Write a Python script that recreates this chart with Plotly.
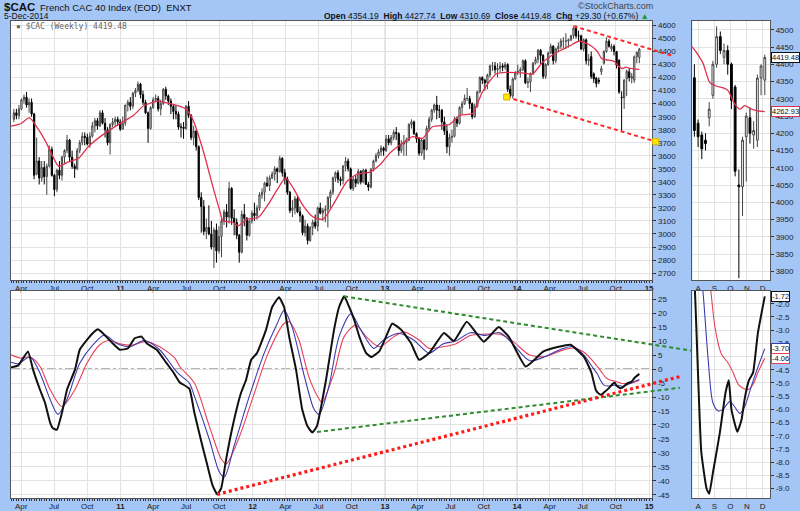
import pandas as pd
import plotly.graph_objects as go

# ---------------- data ----------------
week_dates = pd.date_range("2010-03-12", "2014-12-05", freq="W-FRI")

opens = [
    3880,3930,3910,3960,4030,4050,3990,4010,3920,3460,3560,3430,3510,3440,3520,3650,3450,3340,3490,3450,3590,3640,3720,3590,3520,3500,3640,3700,3750,3740,3690,3750,3830,3870,3830,3930,3850,3800,3700,3840,3860,3880,3860,
    3805,3850,3990,4010,3980,4080,4100,4150,4070,4010,3930,3810,3970,4030,4040,3960,4000,4110,4060,4020,3980,3940,3920,3820,3820,3810,3980,3910,3740,3790,3670,3280,3210,3020,3050,3000,2900,3030,2870,2980,3100,3170,3130,3350,3120,3090,2990,2860,3150,3120,2990,3100,
    3160,3140,3200,3300,3320,3390,3370,3430,3460,3500,3480,3580,3470,3420,3320,3180,3200,3270,3170,3140,3010,3060,2950,3050,3090,3060,3200,3160,3180,3190,3280,3320,3430,3470,3420,3410,3520,3560,3500,3350,3420,3390,3480,3400,3490,3380,3360,3500,3560,3600,3630,3660,
    3640,3730,3700,3740,3780,3770,3640,3690,3700,3720,3840,3860,3770,3730,3620,3720,3650,3810,3880,3950,3990,3950,3950,3860,3790,3670,3740,3750,3880,3850,3970,4000,4040,4040,4000,3900,3980,4090,4200,4180,4160,4220,4290,4290,4260,4270,4290,4280,4300,4110,4060,4190,
    4240,4250,4260,4330,4160,4165,4230,4310,4340,4410,4370,4210,4300,4390,4440,4330,4420,4440,4480,4480,4480,4490,4520,4580,4520,4520,4420,4490,4330,4361,4229,4195,4180,4245,4310,4400,4480,4420,4440,4400,4334,4050,4045,4190,4245,4195,4180,4360,4354.19,
]
highs = [
    3960,3960,3990,4040,4070,4090,4040,4040,3930,3740,3590,3560,3560,3540,3680,3670,3460,3500,3560,3600,3650,3760,3730,3640,3540,3660,3720,3780,3780,3770,3780,3860,3890,3890,3950,3950,3890,3820,3850,3890,3900,3900,3880,
    3900,3990,4030,4050,4090,4120,4170,4160,4100,4030,3940,3980,4050,4070,4060,4030,4120,4130,4070,4040,3990,3990,3940,3850,3860,3990,4020,3920,3830,3800,3680,3320,3260,3120,3220,3100,3050,3080,3060,3120,3190,3230,3400,3360,3190,3120,3000,3180,3230,3130,3110,3180,
    3240,3220,3320,3350,3400,3440,3450,3480,3520,3510,3600,3590,3500,3440,3330,3260,3290,3300,3210,3150,3110,3080,3060,3110,3150,3210,3240,3200,3220,3290,3340,3440,3480,3490,3440,3530,3590,3580,3510,3440,3450,3500,3490,3500,3500,3400,3500,3570,3620,3650,3680,3670,
    3760,3760,3760,3800,3820,3780,3720,3760,3740,3850,3880,3870,3780,3740,3730,3730,3830,3900,3960,4000,4060,3990,3960,3900,3840,3770,3800,3900,3900,3980,4020,4070,4120,4060,4010,4000,4100,4210,4210,4190,4230,4300,4320,4320,4310,4320,4310,4320,4310,4140,4200,4250,
    4300,4280,4340,4340,4200,4240,4320,4360,4420,4420,4380,4310,4400,4460,4450,4430,4470,4500,4510,4540,4500,4530,4590,4600,4560,4530,4500,4500,4380,4400,4240,4205,4200,4290,4410,4510,4495,4460,4455,4405,4340,4095,4190,4260,4275,4235,4370,4400,4427.74,
]
lows = [
    3860,3880,3880,3950,4000,3970,3930,3900,3420,3450,3380,3400,3380,3300,3510,3440,3290,3320,3420,3410,3540,3620,3560,3500,3430,3490,3620,3680,3680,3680,3660,3740,3780,3800,3820,3840,3740,3680,3610,3820,3830,3830,3790,
    3800,3830,3940,3950,3960,4050,4090,4040,3990,3920,3700,3800,3960,4010,3940,3910,3990,4030,3990,3920,3880,3880,3800,3740,3730,3800,3890,3720,3680,3640,3260,3010,2990,2960,2990,2880,2740,2780,2850,2820,3070,3050,3080,3070,2990,2960,2780,2850,3060,2950,2980,3080,
    3100,3110,3180,3270,3250,3360,3330,3420,3410,3390,3470,3440,3380,3300,3160,3130,3150,3160,3090,2990,2980,2920,2940,2990,3040,3020,3150,3100,3090,3050,3200,3300,3400,3390,3370,3380,3480,3480,3340,3330,3360,3380,3380,3390,3380,3330,3350,3480,3550,3580,3600,3600,
    3630,3680,3680,3720,3720,3600,3620,3600,3600,3710,3810,3760,3700,3600,3600,3570,3640,3790,3860,3930,3880,3890,3800,3760,3620,3600,3700,3740,3820,3840,3920,3990,4020,3960,3880,3890,3970,4080,4150,4100,4110,4200,4250,4230,4200,4240,4250,4260,4090,4050,4040,4180,
    4220,4200,4250,4150,4120,4090,4220,4300,4310,4300,4190,4190,4290,4380,4300,4310,4400,4420,4420,4420,4430,4480,4500,4500,4480,4410,4400,4300,4290,4190,4160,4125,4150,4220,4300,4390,4430,4400,4370,4270,4075,3780,3960,4060,4170,4155,4160,4310,4310.69,
]
closes = [
    3930,3910,3960,4030,4050,3990,4010,3920,3450,3560,3430,3510,3440,3520,3650,3450,3340,3490,3450,3590,3640,3720,3590,3520,3500,3640,3700,3750,3740,3690,3750,3830,3870,3830,3930,3850,3800,3700,3840,3860,3880,3860,3805,
    3850,3990,4010,3980,4080,4100,4150,4070,4010,3930,3810,3970,4030,4040,3960,4000,4110,4060,4020,3980,3940,3920,3820,3820,3810,3980,3910,3740,3790,3670,3280,3210,3020,3050,3000,2900,3030,2870,2980,3100,3170,3130,3350,3120,3090,2990,2860,3150,3120,2990,3100,3160,
    3140,3200,3300,3320,3390,3370,3430,3460,3500,3480,3580,3470,3420,3320,3180,3200,3270,3170,3140,3010,3060,2950,3050,3090,3060,3200,3160,3180,3190,3280,3320,3430,3470,3420,3410,3520,3560,3500,3350,3420,3390,3480,3400,3490,3380,3360,3500,3560,3600,3630,3660,3640,
    3730,3700,3740,3780,3770,3640,3690,3700,3720,3840,3860,3770,3730,3620,3720,3650,3810,3880,3950,3990,3950,3950,3860,3790,3670,3740,3750,3880,3850,3970,4000,4040,4040,4000,3900,3980,4090,4200,4180,4160,4220,4290,4290,4260,4270,4290,4280,4300,4110,4060,4190,4240,
    4250,4260,4330,4160,4165,4230,4310,4340,4410,4370,4210,4300,4390,4440,4330,4420,4440,4480,4480,4480,4490,4520,4580,4520,4520,4420,4490,4330,4340,4208,4190,4155,4170,4270,4400,4480,4440,4440,4400,4296,4090,4045,4180,4250,4200,4208,4360,4395,4419.48,
]
price_change = 29.30
price_change_pct = 0.67

ma_dates = ["2010-03-04","2010-04-01","2010-04-24","2010-05-17","2010-06-08","2010-06-30","2010-07-14","2010-08-08","2010-09-07","2010-10-04","2010-11-06","2010-12-23",
            "2011-02-06","2011-03-05","2011-04-13","2011-05-19","2011-06-29","2011-07-21","2011-08-18","2011-09-14","2011-10-03","2011-10-11","2011-11-08","2011-11-22","2011-12-16",
            "2012-01-16","2012-02-13","2012-03-12","2012-04-01","2012-04-22","2012-05-20","2012-06-16","2012-07-14","2012-08-11","2012-09-18","2012-10-16","2012-11-20","2012-12-18",
            "2013-01-14","2013-02-11","2013-03-18","2013-04-15","2013-05-12","2013-06-28","2013-07-26","2013-08-31","2013-09-27","2013-11-04","2013-12-02",
            "2014-01-16","2014-02-13","2014-03-12","2014-04-20","2014-05-26","2014-06-22","2014-07-21","2014-08-10","2014-08-23","2014-09-04","2014-09-20","2014-09-27",
            "2014-10-09","2014-10-19","2014-10-28","2014-11-10","2014-11-22","2014-12-05"]
ma_values = [3827,3848,3893,3810,3709,3582,3519,3551,3582,3671,3747,3835,
             3911,3982,4020,4000,3962,3870,3633,3354,3170,3101,3088,3063,3113,
             3126,3227,3354,3430,3354,3215,3131,3113,3227,3405,3460,3475,3531,
             3620,3683,3747,3734,3823,3840,3911,3924,4089,4228,4240,
             4236,4228,4316,4393,4443,4481,4450,4404,4347,4337,4330,4323,
             4285,4270,4280,4270,4265,4262.93]

black_dates = ["2010-03-04","2010-03-24","2010-04-20","2010-05-04","2010-05-23","2010-06-06","2010-06-20","2010-06-28","2010-07-09","2010-07-23","2010-08-06","2010-08-28",
               "2010-09-10","2010-09-30","2010-10-16","2010-10-30","2010-11-13","2010-12-10","2010-12-30","2011-01-21","2011-02-09","2011-02-28","2011-03-14","2011-04-11",
               "2011-05-08","2011-05-25","2011-06-13","2011-07-10","2011-07-24","2011-08-15","2011-08-29","2011-09-12","2011-09-25","2011-10-06","2011-10-20","2011-11-05",
               "2011-11-30","2011-12-14","2011-12-28","2012-01-13","2012-02-07","2012-02-24","2012-03-14","2012-03-28","2012-04-11","2012-04-30","2012-05-17","2012-05-31",
               "2012-06-14","2012-06-27","2012-07-22","2012-08-13","2012-08-27","2012-09-10","2012-09-24","2012-10-08","2012-10-22","2012-11-10","2012-11-24","2012-12-16",
               "2013-01-04","2013-01-21","2013-02-15","2013-03-14","2013-04-05","2013-05-03","2013-06-13","2013-07-10","2013-08-15","2013-10-01","2013-11-11","2013-12-09",
               "2014-01-25","2014-03-15","2014-04-26","2014-05-29","2014-07-04","2014-07-18","2014-07-26","2014-08-07","2014-08-17","2014-08-22","2014-08-29","2014-09-11",
               "2014-09-22","2014-09-28","2014-10-03","2014-10-14","2014-10-22","2014-10-28","2014-11-05","2014-11-13","2014-11-22","2014-12-05"]
black_values = [0.6,1.3,6.3,-0.2,-7.3,-12,-19.1,-21.2,-21.7,-15.6,-7.3,-0.2,
                6.9,10.4,12.8,14.2,12.8,9.2,6.9,7.4,11,11.6,9.2,6.9,
                2.1,-0.8,-4.7,-7,-15.6,-27.4,-34.5,-41.5,-44.8,-42.7,-32.1,-21.5,
                -8.5,-3.8,3.3,5.7,14,22.2,25.7,22.2,11.6,-0.2,-14.4,-20.3,
                -22.7,-20.3,-3.8,14,22.2,26,22.2,17.5,11.6,5.7,4.3,6.3,
                11.6,16.3,14,9.2,3.3,5.7,12.9,10,16.9,9.8,15,11.6,
                0.9,6.3,8,8.7,4.5,1.0,-1.5,-7.6,-9.0,-9.2,-8.4,-6.9,
                -5.35,-4.9,-6.0,-6.85,-6.4,-5.6,-4.9,-4.6,-3.1,-1.72]

blue_dates = ["2010-03-04","2010-03-24","2010-04-26","2010-05-23","2010-06-20","2010-07-12","2010-08-06","2010-09-10","2010-10-16","2010-11-18","2010-12-20",
              "2011-01-26","2011-03-08","2011-04-19","2011-05-31","2011-06-13","2011-07-10","2011-07-24","2011-09-03","2011-10-01","2011-10-15","2011-11-11","2011-12-23",
              "2012-02-02","2012-03-09","2012-03-28","2012-04-19","2012-05-23","2012-06-19","2012-07-03","2012-07-30","2012-08-27","2012-09-29","2012-10-26","2012-12-01","2012-12-28",
              "2013-02-08","2013-03-21","2013-05-03","2013-06-10","2013-07-15","2013-08-25","2013-10-05","2013-11-15","2013-12-20",
              "2014-02-05","2014-03-20","2014-05-01","2014-06-05","2014-07-05","2014-08-01","2014-08-10","2014-08-20","2014-08-29","2014-09-08","2014-09-17",
              "2014-09-30","2014-10-09","2014-10-19","2014-10-28","2014-11-10","2014-11-22","2014-12-05"]
blue_values = [2.4,1.9,4.3,-1.4,-10.8,-16.2,-10.8,2.1,8.6,12.2,9.2,
               8,10.2,6.9,-0.2,-2,-5,-9.7,-25,-36.8,-38.6,-27.4,-9.7,
               5.7,16.3,21,15.1,-2.6,-14.4,-16.2,-6.1,11.6,19.8,14,7.4,10.4,
               12.8,10.4,5.7,9,10,13,12,13,9,
               3,4.5,7,8,5,0,-1.5,-4.1,-5.75,-6.06,-6.0,
               -5.7,-5.9,-6.15,-5.9,-5.1,-4.4,-3.70]

red_dates = ["2010-03-04","2010-03-31","2010-04-26","2010-05-23","2010-06-20","2010-07-23","2010-08-28","2010-09-30","2010-11-04","2010-12-01","2010-12-30",
             "2011-02-03","2011-03-08","2011-04-19","2011-05-31","2011-06-13","2011-07-24","2011-09-03","2011-10-06","2011-10-20","2011-11-23",
             "2012-01-03","2012-02-13","2012-03-28","2012-04-11","2012-05-08","2012-06-04","2012-07-03","2012-07-11","2012-08-13","2012-09-10","2012-10-12","2012-11-10","2012-12-16",
             "2013-01-26","2013-02-22","2013-04-05","2013-05-03","2013-06-10","2013-07-15","2013-08-25","2013-10-05","2013-11-15","2013-12-20",
             "2014-02-05","2014-03-20","2014-05-01","2014-06-05","2014-07-05","2014-08-01","2014-08-25","2014-09-02","2014-09-14","2014-09-27",
             "2014-10-06","2014-10-16","2014-10-25","2014-11-04","2014-11-13","2014-11-22","2014-12-05"]
red_values = [5.1,3.9,4.3,1,-7.3,-13.4,-7.3,2.1,8.6,10.2,9,
              8.6,9.8,8,3.9,1,-5,-20.3,-32.1,-33.9,-25,
              -9.7,5.7,16.3,16.9,10.4,-2.6,-10.8,-12,-1.4,11.6,15.7,11.6,8,
              11.6,13.3,10.4,7.4,8,9,12,12.5,12.5,10,
              5,4.5,6.5,7.5,6,2.5,-1.5,-2.9,-3.9,-4.25,
              -4.6,-5.05,-5.2,-5.25,-5.05,-4.6,-4.06]

# trend lines drawn on the chart (date, value endpoints)
price_upper_dates = ["2014-06-06", "2015-03-08"]
price_upper_values = [4595, 4367]
price_lower_dates = ["2013-12-03", "2015-01-19"]
price_lower_values = [4051, 3709]
osc_green_upper_dates = ["2012-09-10", "2015-04-27"]
osc_green_upper_values = [26, 6.6]
osc_green_lower_dates = ["2012-06-27", "2015-03-27"]
osc_green_lower_values = [-22.5, -6.7]
osc_red_dates = ["2011-09-25", "2015-03-30"]
osc_red_values = [-44.8, -2.6]

quarter_ticks = pd.date_range("2010-04-01", "2015-01-01", freq="QS")
quarter_text = [("<b>%s</b>" % d.strftime("%y")) if d.month == 1 else d.strftime("%b") for d in quarter_ticks]
year_ticks = pd.date_range("2011-01-01", "2015-01-01", freq="YS")
month_ticks = pd.date_range("2014-08-01", "2014-12-01", freq="MS")
month_text = [d.strftime("%b")[0] for d in month_ticks]
price_ticks = list(range(2700, 4700, 100))
osc_ticks = list(range(25, -50, -5))
zoom_price_ticks = list(range(3800, 4550, 50))
zoom_osc_ticks = [-2.0 - 0.5 * i for i in range(15)]

# ---------------- layout geometry ----------------
W, H = 800, 511
def px_x(a, b):
    return [a / W, b / W]
def px_y(top, bottom):
    return [1 - bottom / H, 1 - top / H]

X_MAIN = px_x(11, 654)
X_EXT = px_x(11, 700)
X_RIGHT = px_x(694, 772)
Y_MAIN = px_y(21, 283)
Y_OSC = px_y(294, 503)

main_range = [pd.Timestamp("2010-03-04"), pd.Timestamp("2015-01-10")]
ext_end = main_range[0] + (main_range[1] - main_range[0]) * ((700 - 11) / (654 - 11))
ext_range = [main_range[0], ext_end]
right_range = ["2014-07-21", "2014-12-15"]
price_range = [2645, 4636]
osc_range = [-46.14, 27.87]
zprice_range = [3774, 4526]
zosc_range = [-9.36, -1.52]

MA_COLOR = "#e0304e"
BLUE = "#3b3bb0"
RED = "#e8405a"
FONT = "Liberation Sans"

fig = go.Figure()

n_zoom = 20
candle_style = dict(increasing=dict(line=dict(color="#444", width=1), fillcolor="white"),
                    decreasing=dict(line=dict(color="black", width=1), fillcolor="black"),
                    whiskerwidth=0, showlegend=False, hoverinfo="skip")
fig.add_trace(go.Candlestick(x=week_dates, open=opens, high=highs, low=lows, close=closes,
                             xaxis="x", yaxis="y", **candle_style))
fig.add_trace(go.Scatter(x=ma_dates, y=ma_values, mode="lines", xaxis="x", yaxis="y",
                         line=dict(color=MA_COLOR, width=1.3, shape="spline", smoothing=0.6)))
fig.add_trace(go.Candlestick(x=week_dates[-n_zoom:], open=opens[-n_zoom:], high=highs[-n_zoom:],
                             low=lows[-n_zoom:], close=closes[-n_zoom:], xaxis="x3", yaxis="y3", **candle_style))
fig.add_trace(go.Scatter(x=ma_dates, y=ma_values, mode="lines", xaxis="x3", yaxis="y3",
                         line=dict(color=MA_COLOR, width=1.3, shape="spline", smoothing=0.6)))

for xa, ya in (("x2", "y2"), ("x4", "y4")):
    fig.add_trace(go.Scatter(x=red_dates, y=red_values, mode="lines", xaxis=xa, yaxis=ya,
                             line=dict(color=RED, width=1.1, shape="spline", smoothing=0.8)))
    fig.add_trace(go.Scatter(x=blue_dates, y=blue_values, mode="lines", xaxis=xa, yaxis=ya,
                             line=dict(color=BLUE, width=1.1, shape="spline", smoothing=0.8)))
    fig.add_trace(go.Scatter(x=black_dates, y=black_values, mode="lines", xaxis=xa, yaxis=ya,
                             line=dict(color="#111", width=2, shape="spline", smoothing=0.4)))

# trend lines on extended overlay axes (they run into the label gutter as in the original)
fig.add_trace(go.Scatter(x=price_upper_dates, y=price_upper_values, mode="lines", xaxis="x5", yaxis="y5",
                         line=dict(color="#ff2a2a", width=2, dash="4px,3px")))
fig.add_trace(go.Scatter(x=price_lower_dates, y=price_lower_values, mode="lines+markers", xaxis="x5", yaxis="y5",
                         line=dict(color="#ff2a2a", width=2, dash="4px,3px"),
                         marker=dict(symbol="square", size=6, color="#ffe600", line=dict(color="#e0b400", width=1))))
fig.add_trace(go.Scatter(x=osc_green_upper_dates, y=osc_green_upper_values, mode="lines", xaxis="x6", yaxis="y6",
                         line=dict(color="#2e8b2e", width=2, dash="4px,3px")))
fig.add_trace(go.Scatter(x=osc_green_lower_dates, y=osc_green_lower_values, mode="lines", xaxis="x6", yaxis="y6",
                         line=dict(color="#2e8b2e", width=2, dash="4px,3px")))
fig.add_trace(go.Scatter(x=osc_red_dates, y=osc_red_values, mode="lines", xaxis="x6", yaxis="y6",
                         line=dict(color="#ff1a1a", width=3.2, dash="3px,3px")))

tickfont = dict(family=FONT, size=8, color="#222")
grid = "#e2e2e2"
frame = dict(showline=True, mirror=True, linecolor="#555", linewidth=1)
week_minor = dict(ticks="outside", ticklen=2, tickcolor="#333", dtick=7 * 86400000, tick0="2010-03-12", showgrid=False)

def xdate(domain, anchor, rng, tv, tt, minor=None):
    d = dict(domain=domain, anchor=anchor, type="date", range=rng, tickmode="array", tickvals=tv, ticktext=tt,
             showgrid=True, gridcolor=grid, gridwidth=1, tickfont=tickfont, ticks="", zeroline=False,
             rangeslider=dict(visible=False), **frame)
    if minor:
        d["minor"] = minor
    return d

def yval(domain, anchor, rng, tv, tt):
    return dict(domain=domain, anchor=anchor, range=rng, side="right", tickmode="array", tickvals=tv, ticktext=tt,
                showgrid=True, gridcolor=grid, gridwidth=1, tickfont=tickfont, ticks="outside", ticklen=3,
                tickcolor="#333", zeroline=False, **frame)

hidden = dict(visible=False, showgrid=False, zeroline=False, fixedrange=True)

fig.update_layout(
    width=W, height=H, margin=dict(l=0, r=0, t=0, b=0),
    paper_bgcolor="#a4c6f6", plot_bgcolor="rgba(0,0,0,0)", showlegend=False,
    font=dict(family=FONT, size=8, color="#222"),
    xaxis=xdate(X_MAIN, "y", main_range, quarter_ticks, quarter_text, week_minor),
    yaxis=yval(Y_MAIN, "x", price_range, price_ticks, [str(v) for v in price_ticks]),
    xaxis2=xdate(X_MAIN, "y2", main_range, quarter_ticks, quarter_text, week_minor),
    yaxis2=yval(Y_OSC, "x2", osc_range, osc_ticks, [str(v) for v in osc_ticks]),
    xaxis3=xdate(X_RIGHT, "y3", right_range, month_ticks, month_text),
    yaxis3=yval(Y_MAIN, "x3", zprice_range, zoom_price_ticks, [str(v) for v in zoom_price_ticks]),
    xaxis4=xdate(X_RIGHT, "y4", right_range, month_ticks, month_text),
    yaxis4=yval(Y_OSC, "x4", zosc_range, zoom_osc_ticks, ["%.1f" % v for v in zoom_osc_ticks]),
    xaxis5=dict(domain=X_EXT, anchor="y5", type="date", range=ext_range, **hidden),
    yaxis5=dict(domain=Y_MAIN, anchor="x5", range=price_range, **hidden),
    xaxis6=dict(domain=X_EXT, anchor="y6", type="date", range=ext_range, **hidden),
    yaxis6=dict(domain=Y_OSC, anchor="x6", range=osc_range, **hidden),
)

shapes = []
for xd, yd in ((X_MAIN, Y_MAIN), (X_MAIN, Y_OSC), (X_RIGHT, Y_MAIN), (X_RIGHT, Y_OSC)):
    shapes.append(dict(type="rect", xref="paper", yref="paper", x0=xd[0], x1=xd[1], y0=yd[0], y1=yd[1],
                       fillcolor="white", line=dict(width=0), layer="below"))
for xa, ya in (("x", "y"), ("x2", "y2")):
    for d in year_ticks[:-1]:
        shapes.append(dict(type="line", xref=xa, yref=ya + " domain", x0=d, x1=d, y0=0, y1=1,
                           line=dict(color="#cdcdcd", width=1), layer="below"))
shapes.append(dict(type="line", xref="x2 domain", yref="y2", x0=0, x1=1, y0=0, y1=0,
                   line=dict(color="#9a9a9a", width=1.5, dash="dashdot"), layer="below"))
fig.update_layout(shapes=shapes)

ann = []
def label(x, y, text, size, color="#111", anchor="left", family=FONT):
    ann.append(dict(xref="paper", yref="paper", x=x / W, y=1 - y / H, text=text, showarrow=False,
                    xanchor=anchor, yanchor="middle", font=dict(family=family, size=size, color=color)))

label(2, 7.5, "<b>$CAC</b>", 11.5)
label(38, 7.5, "French CAC 40 Index (EOD)  ENXT", 9.5)
label(2, 16.5, "5-Dec-2014", 8.5)
label(657, 6, "©StockCharts.com", 9, "#444", "right")
label(653, 16.5, "<b>Open</b> %.2f  <b>High</b> %.2f  <b>Low</b> %.2f  <b>Close</b> %.2f  <b>Chg</b> +%.2f (+%.2f%%) "
      "<span style='color:#1f9a1f'>▲</span>" % (opens[-1], highs[-1], lows[-1], closes[-1], price_change, price_change_pct),
      8.5, "#111", "right")
label(14, 26.5, "▪ $CAC (Weekly) %.2f" % closes[-1], 8, "#666", "left", "DejaVu Sans Mono")

def valbox(yref, y, text, border):
    ann.append(dict(xref="paper", yref=yref, x=773 / W, y=y, text=text, showarrow=False, xanchor="left",
                    yanchor="middle", font=dict(family=FONT, size=7.5, color="#111"), bgcolor="white",
                    bordercolor=border, borderwidth=1, borderpad=0))

valbox("y3", closes[-1], "%.2f" % closes[-1], "#111")
valbox("y3", ma_values[-1], "%.2f" % ma_values[-1], MA_COLOR)
valbox("y4", black_values[-1], "%.2f" % black_values[-1], "#111")
valbox("y4", blue_values[-1], "%.2f" % blue_values[-1], BLUE)
valbox("y4", red_values[-1], "%.2f" % red_values[-1], RED)
fig.update_layout(annotations=ann)

fig.write_html("out.html")
